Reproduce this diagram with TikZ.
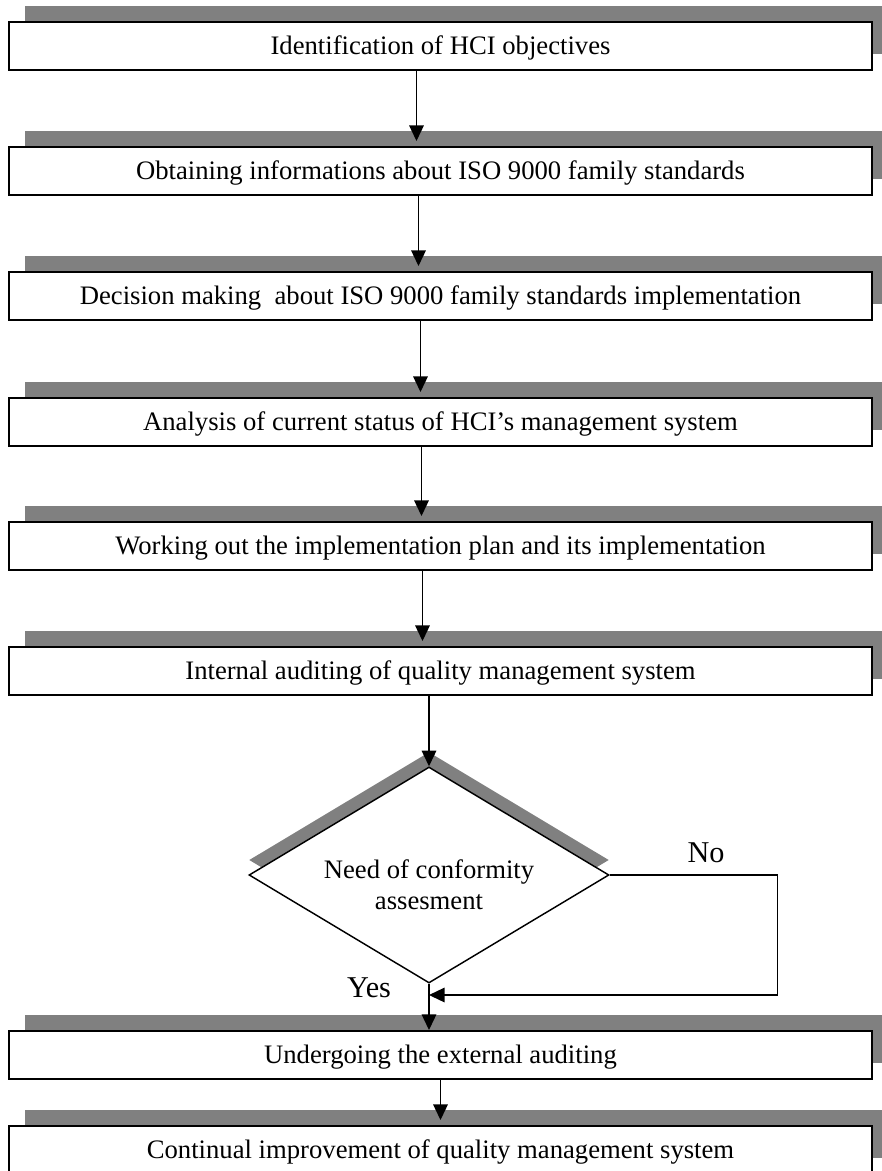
\documentclass[tikz,border=0pt]{standalone}
\usepackage{fontspec}
\setmainfont{Liberation Serif}
\usetikzlibrary{shapes.geometric,shadows,arrows.meta,calc}

\begin{document}
\begin{tikzpicture}[x=0.48pt, y=-0.48pt, >={Triangle[length=7.5pt,width=7pt]},
  stage/.style={draw, line width=1pt, fill=white, minimum width=414pt, minimum height=23pt,
    inner sep=0pt, text height=8.5pt, text depth=0pt, font=\fontsize{12.8}{15}\selectfont,
    drop shadow={shadow xshift=7.7pt, shadow yshift=7.7pt, fill=gray, opacity=1}},
  decision/.style={diamond, draw, line width=.7pt, fill=white, minimum width=172.8pt,
    minimum height=103.7pt, aspect=1.667, inner sep=0pt, align=center,
    font=\fontsize{12.8}{15}\selectfont,
    drop shadow={shadow xshift=0pt, shadow yshift=7.2pt, fill=gray, opacity=1}},
  lbl/.style={font=\fontsize{14.5}{16}\selectfont, inner sep=0pt},
  flow/.style={->, line width=.7pt},
  flowin/.style={flow, shorten >=2.4pt}]

\useasboundingbox (0,0) rectangle (882,1171);

% process boxes
\node[stage] (ident) at (440.5,46) {Identification of HCI objectives};
\node[stage] (info) at (440.5,171) {Obtaining informations about ISO 9000 family standards};
\node[stage] (decide) at (440.5,296) {Decision making\ \ about ISO 9000 family standards implementation};
\node[stage] (status) at (440.5,422) {Analysis of current status of HCI’s management system};
\node[stage] (plan) at (440.5,546) {Working out the implementation plan and its implementation};
\node[stage] (intaudit) at (440.5,671) {Internal auditing of quality management system};

% decision
\node[decision] (need) at (429,875) {\rule{0pt}{18pt}Need of conformity\\assesment};

\node[stage] (extaudit) at (440.5,1055) {Undergoing the external auditing};
\node[stage] (improve) at (440.5,1150) {Continual improvement of quality management system};

% labels
\node[lbl] (no) at (706,853) {No};
\node[lbl] (yes) at (369,988) {Yes};

\coordinate (join) at (429,995);

% arrows
\draw[flowin] ($(ident.south)+(-24,0)$) -- ($(info.north)+(-24,0)$);
\draw[flowin] ($(info.south)+(-22,0)$) -- ($(decide.north)+(-22,0)$);
\draw[flowin] ($(decide.south)+(-20,0)$) -- ($(status.north)+(-20,0)$);
\draw[flowin] ($(status.south)+(-19,0)$) -- ($(plan.north)+(-19,0)$);
\draw[flowin] ($(plan.south)+(-18,0)$) -- ($(intaudit.north)+(-18,0)$);
\draw[flow] (intaudit.south -| need.north) -- (need.north);

\draw[flow] (need.south) -- (need.south |- extaudit.north);
\draw[flow] (need.east) -- ++(168,0) |- (join);

\draw[flowin] (extaudit.south) -- (improve.north);

\end{tikzpicture}
\end{document}
